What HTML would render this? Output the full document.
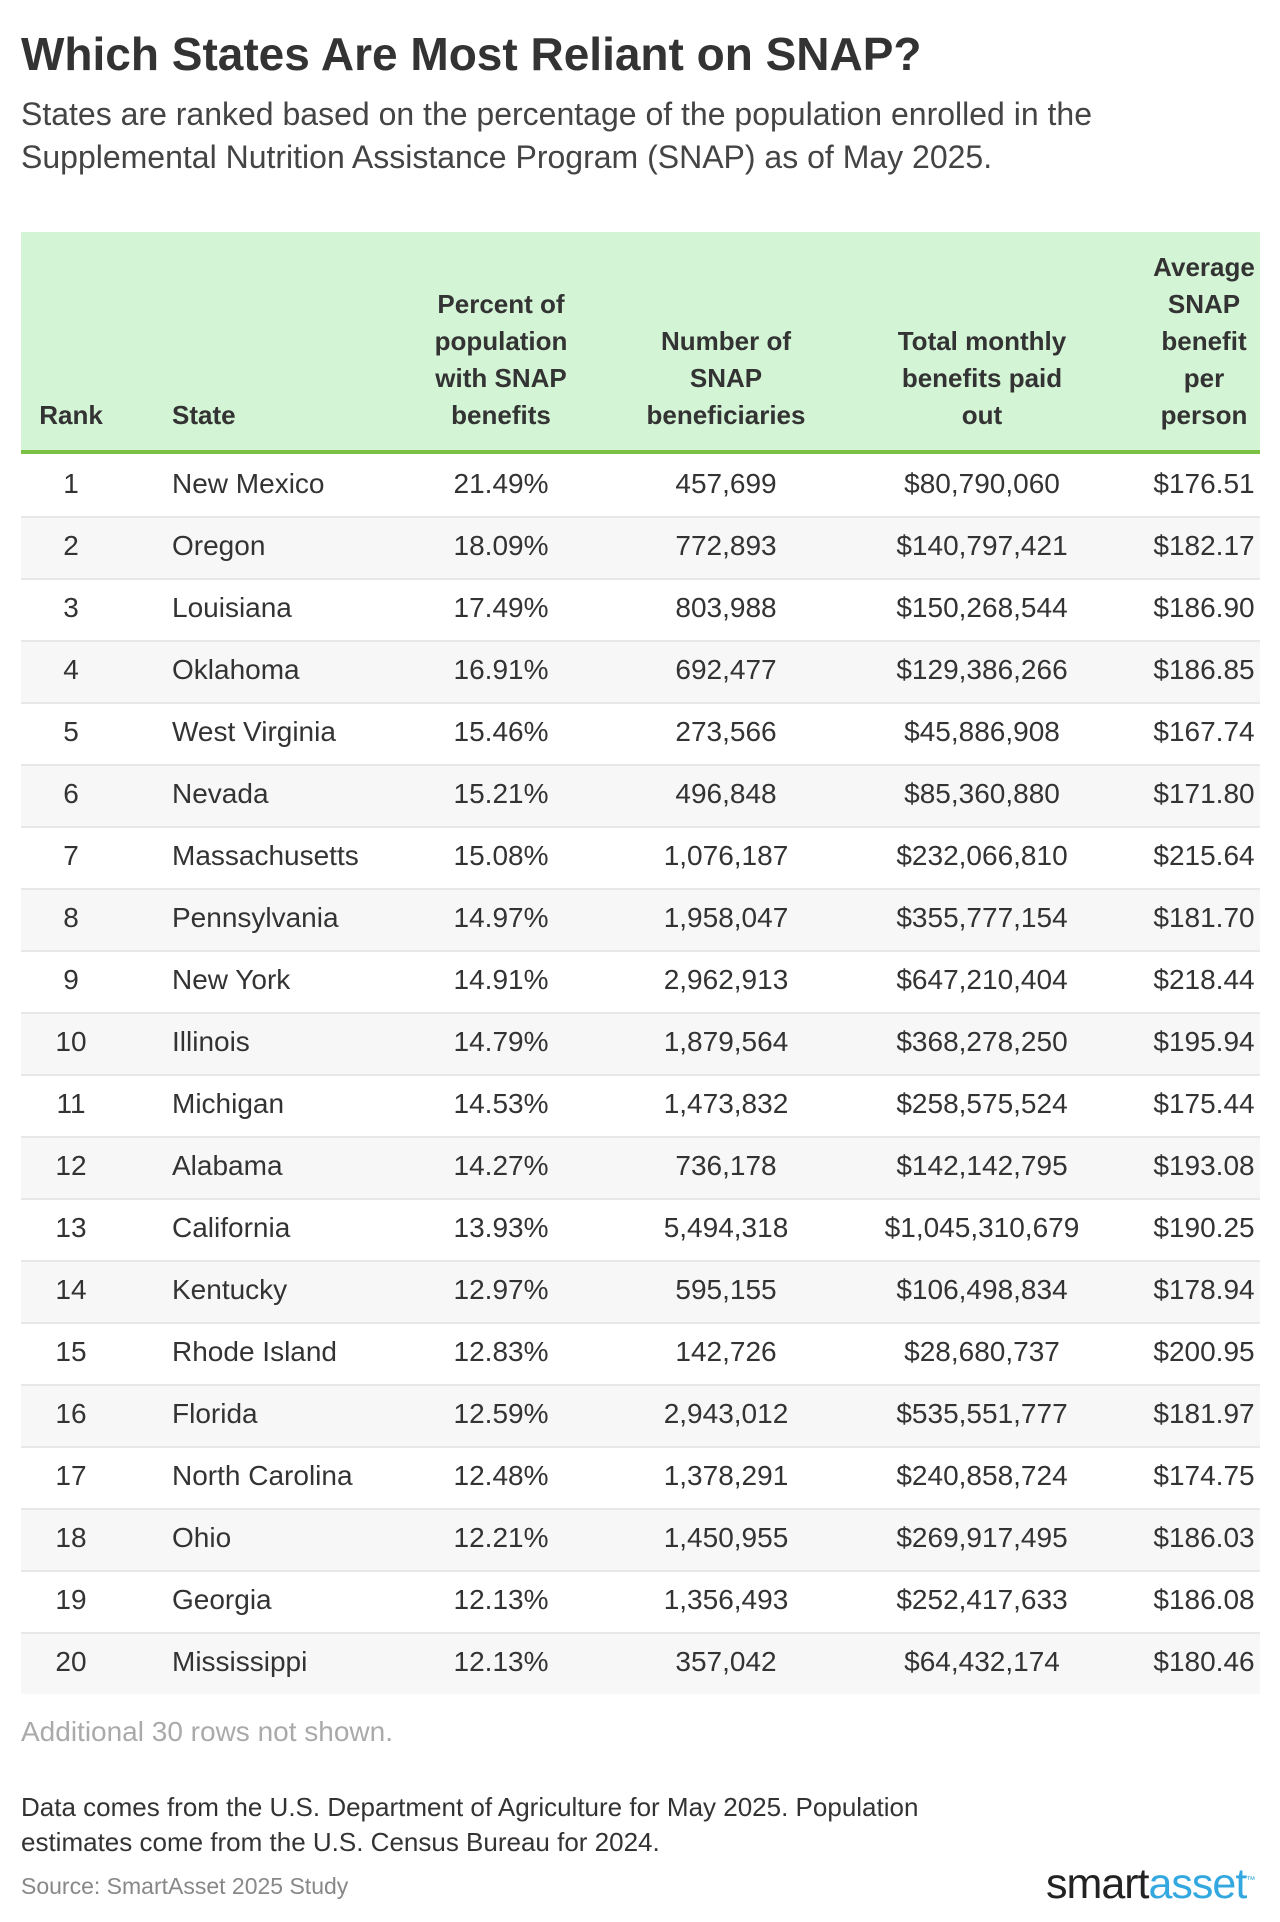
<!DOCTYPE html>
<html><head><meta charset="utf-8"><style>
body{margin:0;width:1280px;height:1922px;background:#fff;font-family:"Liberation Sans",sans-serif;color:#333;position:relative;overflow:hidden}
.a{position:absolute;white-space:nowrap}
.h{font-weight:bold;font-size:26px;line-height:37px;text-align:center;color:#333}
.c{font-size:28px;line-height:30px;color:#333}
</style></head><body>
<div class="a" style="left:21px;top:27px;font-size:46px;font-weight:bold;color:#333">Which States Are Most Reliant on SNAP?</div>
<div class="a" style="left:21px;top:93px;font-size:32px;line-height:43px;color:#444;white-space:normal;width:1240px">States are ranked based on the percentage of the population enrolled in the<br>Supplemental Nutrition Assistance Program (SNAP) as of May 2025.</div>
<div class="a" style="left:21px;top:232px;width:1239px;height:218px;background:#d4f4d6;border-bottom:4px solid #7ac143"></div>
<div id="rows"></div>
<div class="a" style="left:21px;top:1716px;font-size:28px;color:#aaa">Additional 30 rows not shown.</div>
<div class="a" style="left:21px;top:1790px;font-size:26px;line-height:35px;color:#333">Data comes from the U.S. Department of Agriculture for May 2025. Population<br>estimates come from the U.S. Census Bureau for 2024.</div>
<div class="a" style="left:21px;top:1873px;font-size:23px;color:#888">Source: SmartAsset 2025 Study</div>
<div class="a" style="left:1046px;top:1860px;font-size:43px;letter-spacing:-1px;color:#222">smart<span style="color:#33a8e0">asset</span><sup style="font-size:9px;color:#33a8e0">™</sup></div>
<script>
const ranks=[1,2,3,4,5,6,7,8,9,10,11,12,13,14,15,16,17,18,19,20];
const states=["New Mexico","Oregon","Louisiana","Oklahoma","West Virginia","Nevada","Massachusetts","Pennsylvania","New York","Illinois","Michigan","Alabama","California","Kentucky","Rhode Island","Florida","North Carolina","Ohio","Georgia","Mississippi"];
const percents=["21.49%","18.09%","17.49%","16.91%","15.46%","15.21%","15.08%","14.97%","14.91%","14.79%","14.53%","14.27%","13.93%","12.97%","12.83%","12.59%","12.48%","12.21%","12.13%","12.13%"];
const beneficiaries=["457,699","772,893","803,988","692,477","273,566","496,848","1,076,187","1,958,047","2,962,913","1,879,564","1,473,832","736,178","5,494,318","595,155","142,726","2,943,012","1,378,291","1,450,955","1,356,493","357,042"];
const totals=["$80,790,060","$140,797,421","$150,268,544","$129,386,266","$45,886,908","$85,360,880","$232,066,810","$355,777,154","$647,210,404","$368,278,250","$258,575,524","$142,142,795","$1,045,310,679","$106,498,834","$28,680,737","$535,551,777","$240,858,724","$269,917,495","$252,417,633","$64,432,174"];
const averages=["$176.51","$182.17","$186.90","$186.85","$167.74","$171.80","$215.64","$181.70","$218.44","$195.94","$175.44","$193.08","$190.25","$178.94","$200.95","$181.97","$174.75","$186.03","$186.08","$180.46"];
const headers=["Rank","State","Percent of<br>population<br>with SNAP<br>benefits","Number of<br>SNAP<br>beneficiaries","Total monthly<br>benefits paid<br>out","Average<br>SNAP<br>benefit<br>per<br>person"];
const colX=[71,172,501,726,982,1204];
const root=document.getElementById('rows');
function put(html,x,y,cls,align,name){
  const d=document.createElement('div');
  d.className='a '+cls;d.innerHTML=html;
  
  
  if(align==='l'){d.style.left=x+'px';d.style.textAlign='left';}
  else{d.style.left=(x-150)+'px';d.style.width='300px';d.style.textAlign='center';}
  d.style.bottom=(1922-y)+'px';
  root.appendChild(d);return d;
}
headers.forEach((h,i)=>put(h,colX[i],434,'h',i===1?'l':'c','header-'+i));
const top0=454,rh=62;
ranks.forEach((r,i)=>{
  const y=top0+i*rh;
  const bg=document.createElement('div');
  bg.className='a';
  
  
  bg.style.cssText=`left:21px;top:${y}px;width:1239px;height:${rh}px;background:${i%2?'#f7f7f7':'#fff'};border-top:${i?'2px solid #e8e8e8':'none'};box-sizing:border-box`;
  root.appendChild(bg);
  const cy=y+rh/2+14;
  const vals=[r,states[i],percents[i],beneficiaries[i],totals[i],averages[i]];
  vals.forEach((v,j)=>put(String(v),colX[j],cy,'c',j===1?'l':'c','cell'));
});
</script>
</body></html>
